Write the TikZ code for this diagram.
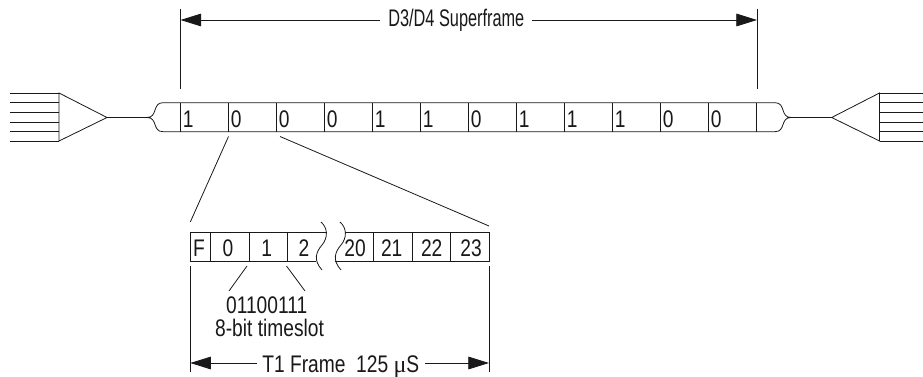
\documentclass[tikz,border=0pt]{standalone}
\usepackage{fontspec}
\setmainfont{Liberation Sans}[FakeStretch=0.8]
\newfontfamily\narrowf{Liberation Sans}[FakeStretch=0.68]
\newfontfamily\grk{Liberation Serif}
\usetikzlibrary{arrows.meta}
\tikzset{
  ln/.style={line width=0.6pt,black!90},
  dim/.style={ln,{Triangle[length=15.5pt,width=9.5pt]}-{Triangle[length=15.5pt,width=9.5pt]}},
  lab/.style={inner sep=0pt,font=\fontsize{18pt}{19pt}\selectfont,text=black!90},
  small/.style={lab,fill=white,inner ysep=1pt}
}
\begin{document}
\begin{tikzpicture}[x=0.75pt,y=-0.75pt]
\useasboundingbox (0,0) rectangle (923,377);
% left triangle
\coordinate (la) at (107,117.5);
\coordinate (lt) at (59,93);
\coordinate (lb) at (59,141);
\draw[ln,line join=miter] (lt) -- (la) -- (lb) -- cycle;
\foreach \y in {93,102.7,112.3,122,131.6,141} \draw[ln] (10,\y) -- (59,\y);
% right triangle
\coordinate (ra) at (831.7,117.5);
\coordinate (rt) at (879.5,93);
\coordinate (rb) at (879.5,141);
\draw[ln] (rt) -- (ra) -- (rb) -- cycle;
\foreach \y in {93,102.7,112.3,122,131.6,141} \draw[ln] (879.5,\y) -- (923,\y);
% band
\coordinate (tl) at (163,102.7);
\coordinate (bl) at (163,131.7);
\coordinate (tr) at (775,102.7);
\coordinate (br) at (775,131.7);
\coordinate (lc) at (147,117.5);
\coordinate (rc) at (791,117.5);
\draw[ln] (tl) -- (tr) .. controls (786,102.7) and (780,117.5) .. (rc) .. controls (780,117.5) and (786,131.7) .. (br) -- (bl)
  .. controls (152,131.7) and (158,117.5) .. (lc) .. controls (158,117.5) and (152,102.7) .. (tl);
\draw[ln] (la) -- (lc);
\draw[ln] (rc) -- (ra);
\foreach \i/\t in {0/1,1/0,2/0,3/0,4/1,5/1,6/0,7/1,8/1,9/1,10/0,11/0}{
  \draw[ln] (180.5+48*\i,102.7) -- (180.5+48*\i,131.7);
  \node[lab,anchor=west] (b\i) at (182.5+48*\i,119.5) {\t};
}
\draw[ln] (756.7,102.7) -- (756.7,131.7);
% superframe dimension
\coordinate (sl) at (180.5,20);
\coordinate (sr) at (757,20);
\draw[ln] (180.5,9) -- (180.5,89);
\draw[ln] (757,9) -- (757,89);
\draw[dim] (sl) -- (sr);
\node[small,anchor=base west,inner xsep=6pt] (sf) at (380,26.5) {\narrowf D3/D4 Superframe\hspace{4pt}};
% zoom lines
\draw[ln] (228.5,136.5) -- (190.3,222);
\draw[ln] (280,136.5) -- (489,226);
% frame
\coordinate (fl) at (190.3,232.3);
\draw[ln] (326.5,232.3) -- (190.3,232.3) -- (190.3,261) -- (316,261);
\draw[ln] (345,232.3) -- (489,232.3) -- (489,261) -- (335,261);
\foreach \x in {210.3,249,287.3,373.7,412.3,450.7} \draw[ln] (\x,232.3) -- (\x,261);
\draw[ln] (321,222) .. controls (328,228) and (328,238) .. (322,245) .. controls (316,252) and (313,260) .. (322,270);
\draw[ln] (340,222) .. controls (347,228) and (347,238) .. (341,245) .. controls (335,252) and (332,260) .. (341,270);
\foreach \x/\t in {199/F,228/0,266.7/1,304/2}{\node[lab] (f\t) at (\x,248) {\t};}
\foreach \x/\t in {355/20,391.7/21,431.7/22,471/23}{\node[lab] (f\t) at (\x,248) {\t};}
% timeslot
\draw[ln] (247,266) -- (229,291);
\draw[ln] (286.5,266) -- (305,291);
\node[lab] (bits) at (266.7,305.5) {01100111};
\node[lab] (ts) at (269.5,328) {8-bit timeslot};
% frame dimension
\coordinate (al) at (190.3,363);
\coordinate (ar) at (489,363);
\draw[ln] (190.3,266) -- (190.3,372);
\draw[ln] (489,266) -- (489,372);
\draw[dim] (al) -- (ar);
\node[small,anchor=base west,inner xsep=4pt] (t1) at (256.7,372) {T1 Frame\ \ 125 {\grk μ}S};
\end{tikzpicture}
\end{document}
